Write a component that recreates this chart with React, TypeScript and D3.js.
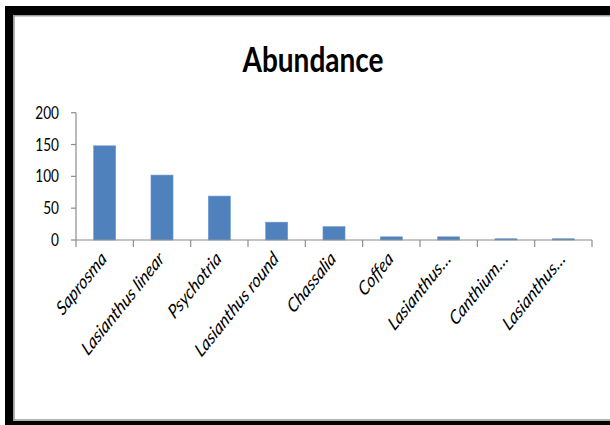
import React from "react";
import * as d3 from "d3";

const categories = [
  "Saprosma",
  "Lasianthus linear",
  "Psychotria",
  "Lasianthus round",
  "Chassalia",
  "Coffea",
  "Lasianthus…",
  "Canthium…",
  "Lasianthus…",
];
const values = [148, 102, 69, 28, 21, 5, 5, 2, 2];
const yTicks = [0, 50, 100, 150, 200];
const title = "Abundance";

const W = 610;
const H = 425;
const plot = { left: 76, right: 592, top: 112.7, bottom: 240 };
const SQ = 0.8; // horizontal squish of text

export default function App() {
  const x = d3
    .scaleBand<number>()
    .domain(categories.map((_, i) => i))
    .range([plot.left, plot.right])
    .paddingInner(0)
    .paddingOuter(0);
  const y = d3.scaleLinear().domain([0, 200]).range([plot.bottom, plot.top]);
  const bw = x.bandwidth() * 0.385;
  const axisColor = "#8c8c8c";
  const font = "Lato, 'Open Sans', sans-serif";
  const boundaries = d3.range(categories.length + 1).map((i) => plot.left + i * x.bandwidth());

  return (
    <div style={{ position: "fixed", left: 0, top: 0 }}>
      <svg width={W} height={H} style={{ display: "block", background: "#fff" }}>
        {/* frame */}
        <rect x={5} y={6} width={W - 5} height={9} fill="#000" />
        <rect x={5} y={6} width={8.3} height={H - 6} fill="#000" />
        <rect x={5} y={421} width={W - 5} height={4} fill="#000" />
        <line x1={14} x2={14} y1={15} y2={420} stroke="#9a9a9a" strokeWidth={1.5} />
        <line x1={13} x2={W} y1={15.7} y2={15.7} stroke="#9a9a9a" strokeWidth={1.5} />
        <line x1={13} x2={W} y1={420} y2={420} stroke="#9a9a9a" strokeWidth={1.5} />

        {/* title */}
        <text
          transform={`translate(313,71.7) scale(${SQ},1)`}
          textAnchor="middle"
          fontFamily={font}
          fontWeight="bold"
          fontSize={35}
          fill="#000"
        >
          {title}
        </text>

        {/* bars */}
        {values.map((v, i) => (
          <rect
            key={i}
            x={(x(i) as number) + x.bandwidth() / 2 - bw / 2}
            y={y(v)}
            width={bw}
            height={y(0) - y(v)}
            fill="#4F81BD"
            stroke="#6f9ad0"
            strokeWidth={0.6}
          />
        ))}

        {/* y axis */}
        <line x1={plot.left} x2={plot.left} y1={plot.top} y2={plot.bottom} stroke={axisColor} strokeWidth={1.2} />
        {yTicks.map((t) => (
          <g key={t}>
            <line x1={plot.left - 5} x2={plot.left} y1={y(t)} y2={y(t)} stroke={axisColor} strokeWidth={1.2} />
            <text
              transform={`translate(59,${y(t)}) scale(0.8,1)`}
              textAnchor="end"
              dy="0.36em"
              fontFamily={font}
              fontSize={17}
              fill="#000"
            >
              {t}
            </text>
          </g>
        ))}

        {/* x axis */}
        <line x1={plot.left} x2={plot.right} y1={plot.bottom} y2={plot.bottom} stroke={axisColor} strokeWidth={1.2} />
        {boundaries.map((bx, i) => (
          <line key={i} x1={bx} x2={bx} y1={plot.bottom} y2={plot.bottom + 7} stroke={axisColor} strokeWidth={1.2} />
        ))}
        {categories.map((c, i) => (
          <text
            key={i}
            transform={`translate(${(x(i) as number) + x.bandwidth() / 2 + 3},${plot.bottom + 20}) scale(${SQ},1) rotate(-45)`}
            textAnchor="end"
            fontFamily={font}
            fontStyle="italic"
            fontSize={19.5}
            fill="#000"
          >
            {c}
          </text>
        ))}
      </svg>
    </div>
  );
}
